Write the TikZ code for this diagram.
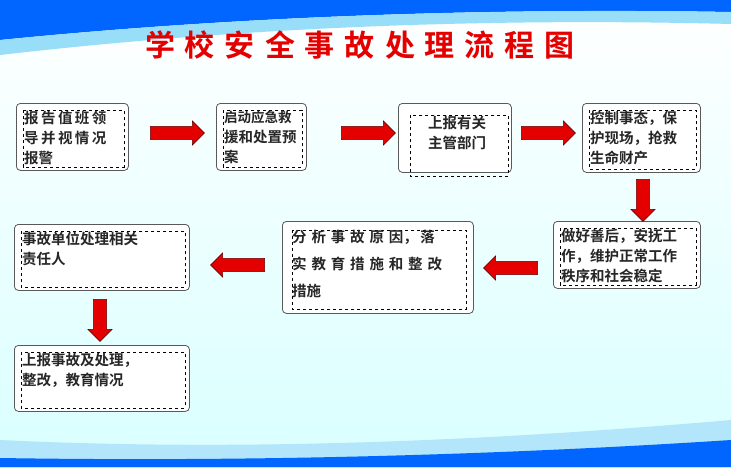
\documentclass[tikz,border=0pt]{standalone}
\usepackage{fontspec}
\newfontfamily\cjk{Noto Sans CJK SC}[BoldFont={Noto Sans CJK SC Bold}]
\usetikzlibrary{shapes.arrows,calc}
\begin{document}
\begin{tikzpicture}[x=1pt,y=-1pt,
  box/.style={draw=gray!70!black,fill=white,rounded corners=4pt,line width=0.8pt,anchor=north west,inner sep=0pt},
  txt/.style={anchor=north west,align=left,font=\cjk\bfseries\fontsize{14.5}{20}\selectfont,text=black!85,inner sep=0pt},
  blk/.style={single arrow,draw=red!40!black,fill=red!90!black,line width=0.6pt,minimum height=54pt,minimum width=24pt,single arrow head extend=5pt,inner xsep=0pt,inner ysep=6pt,text height=0pt,text depth=0pt,text width=0pt}]
\useasboundingbox (0,0) rectangle (731,467);
\shade[top color=white,bottom color=cyan!15] (0,0) rectangle (731,467);
\fill[blue!60!cyan] (0,0) -- (731,0) -- (731,12) .. controls (500,8) and (250,15) .. (0,40) -- cycle;
\fill[cyan!40] (0,40) .. controls (250,15) and (500,8) .. (731,12) -- (731,24) .. controls (500,18) and (250,26) .. (0,55) -- cycle;
\fill[cyan!30] (0,467) -- (0,440) .. controls (250,452) and (500,440) .. (731,420) -- (731,467) -- cycle;
\fill[blue!60!cyan] (0,467) -- (0,458) .. controls (250,462) and (500,455) .. (731,440) -- (731,467) -- cycle;
\node[font=\cjk\bfseries\fontsize{30}{32}\selectfont,text=red!90!black] (title) at (360,45) {学\,\,校\,\,安\,\,全\,\,事\,\,故\,\,处\,\,理\,\,流\,\,程\,\,图};
\newcommand\flowbox[6]{%
  \node[box,minimum width=#4,minimum height=#5] (#1) at (#2,#3) {};
  \draw[dashed,line width=0.6pt] ($(#1.north west)+(7,7)$) rectangle ($(#1.south east)+(-5,-4)$);
  \node[txt] (#1t) at ($(#1.north west)+(8,8)$) {#6};}
\flowbox{b1}{16}{103}{112}{67}{报\,告\,值\,班\,领\\导\,并\,视\,情\,况\\报警}
\flowbox{b2}{216}{103}{90}{67}{\fontsize{13.5}{20}\selectfont 启动应急救\\援和处置预\\案}
\node[box,minimum width=113,minimum height=69] (b3) at (398,103) {};
\draw[dashed,line width=0.6pt] (410,115) rectangle (508,176);
\node[txt] (b3t) at (428,116) {上报有关\\主管部门};
\flowbox{b4}{582}{103}{118}{69}{控制事态，保\\护现场，抢救\\生命财产}
\flowbox{b5}{553}{221}{147}{67}{做好善后，安抚工\\作，维护正常工作\\秩序和社会稳定}
\node[box,minimum width=191,minimum height=92] (b6) at (282,221) {};
\draw[dashed,line width=0.6pt] (292,230) rectangle (466,309);
\node[txt,font=\cjk\bfseries\fontsize{14.5}{27}\selectfont] (b6t) at (292,230) {分\,\,析\,\,事\,\,故\,\,原\,\,因，\,落\\实\,\,教\,\,育\,\,措\,\,施\,\,和\,\,整\,\,改\\措施};
\flowbox{b7}{14}{224}{175}{66}{事故单位处理相关\\责任人}
\flowbox{b8}{14}{345}{175}{66}{上报事故及处理，\\整改，教育情况}
\node[blk] (a1) at (174,133) {};
\node[blk] (a2) at (365,133) {};
\node[blk] (a3) at (545,133) {};
\node[blk,rotate=-90,minimum height=42pt] (a4) at (643,197) {};
\node[blk,rotate=180] (a5) at (514,268) {};
\node[blk,rotate=180] (a6) at (241,265) {};
\node[blk,rotate=-90,minimum height=42pt] (a7) at (100,317) {};
\end{tikzpicture}
\end{document}
